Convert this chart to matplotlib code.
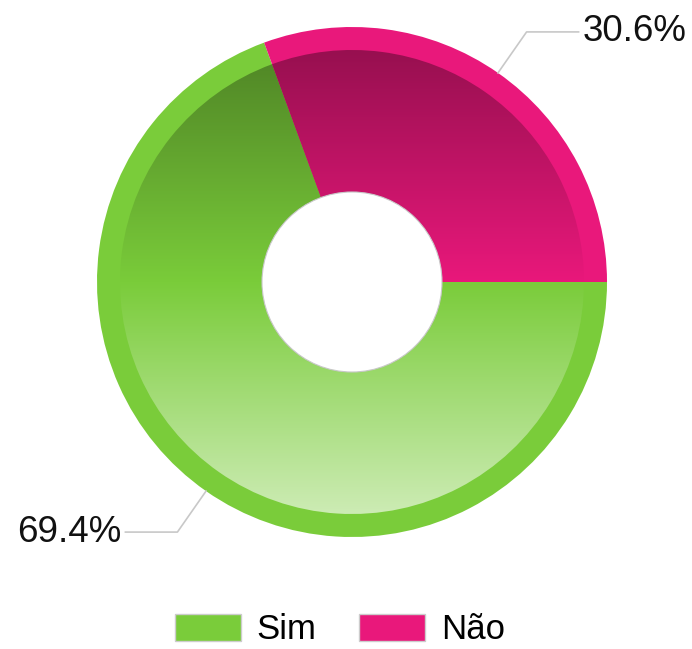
import numpy as np
import matplotlib
matplotlib.use("Agg")
import matplotlib.pyplot as plt
from matplotlib.patches import Patch, Circle

categories = ["Sim", "Não"]
values = [69.4, 30.6]
colors = ["#7ACC3A", "#E9187B"]

W, H = 692, 649
fig = plt.figure(figsize=(W / 100, H / 100), dpi=100)
ax = fig.add_axes([0, 0, 1, 1])

cx, cy = 352, H - 282
r_out, r_in, r_hole = 255, 232, 90
start = 360 * values[1] / sum(values)

# outer solid ring
outer, _ = ax.pie(values, colors=colors, startangle=start, counterclock=True,
                  radius=r_out, center=(cx, cy),
                  wedgeprops=dict(width=r_out - r_hole, linewidth=0))
# inner wedges used as clip paths for the vertical gradient
inner, _ = ax.pie(values, colors=colors, startangle=start, counterclock=True,
                  radius=r_in, center=(cx, cy),
                  wedgeprops=dict(width=r_in - r_hole, linewidth=0))


def gradient(hexcol, n=400):
    base = np.array(matplotlib.colors.to_rgb(hexcol))
    t = np.linspace(-1, 1, n)[:, None]
    dark = base * (1 + 0.35 * t)
    light = base + (1 - base) * 0.62 * t
    img = np.where(t < 0, dark, light)
    return np.clip(img, 0, 1)[:, None, :]


for w, c in zip(inner, colors):
    im = ax.imshow(gradient(c), extent=(cx - r_in, cx + r_in, cy - r_in, cy + r_in),
                   origin="upper", aspect="auto", interpolation="bilinear", zorder=2)
    im.set_clip_path(w)

ax.add_patch(Circle((cx, cy), r_hole, facecolor="white", edgecolor="#c8c8c8",
                    linewidth=0.8, zorder=3))

# leader lines and percentage labels
angles = []
a = start
for v in values:
    span = 360 * v / sum(values)
    angles.append(a + span / 2)
    a += span

for v, ang in zip(values, angles):
    rad = np.deg2rad(ang)
    x1, y1 = cx + r_out * np.cos(rad), cy + r_out * np.sin(rad)
    x2, y2 = cx + 305 * np.cos(rad), cy + 305 * np.sin(rad)
    side = 1 if np.cos(rad) > 0 else -1
    x3 = x2 + side * 52
    ax.plot([x1, x2, x3], [y1, y2, y2], color="#c8c8c8", lw=1.2, zorder=4)
    ax.text(x3 + side * 4, y2, f"{v:.1f}%", ha="left" if side > 0 else "right",
            va="center", fontsize=26.5, family="Liberation Sans", color="#111111")

ax.set_xlim(0, W)
ax.set_ylim(0, H)
ax.set_aspect("auto")
ax.axis("off")

handles = [Patch(facecolor=c, edgecolor="#cccccc", linewidth=1) for c in colors]
fig.legend(handles, categories, loc="upper center", bbox_to_anchor=(0.491, 0.055),
           ncol=2, frameon=False, prop=dict(family="Liberation Sans", size=25),
           handlelength=1.9, handleheight=0.8, handletextpad=0.45,
           columnspacing=1.25, borderpad=0, borderaxespad=0)

fig.savefig("out.png", dpi=100)
